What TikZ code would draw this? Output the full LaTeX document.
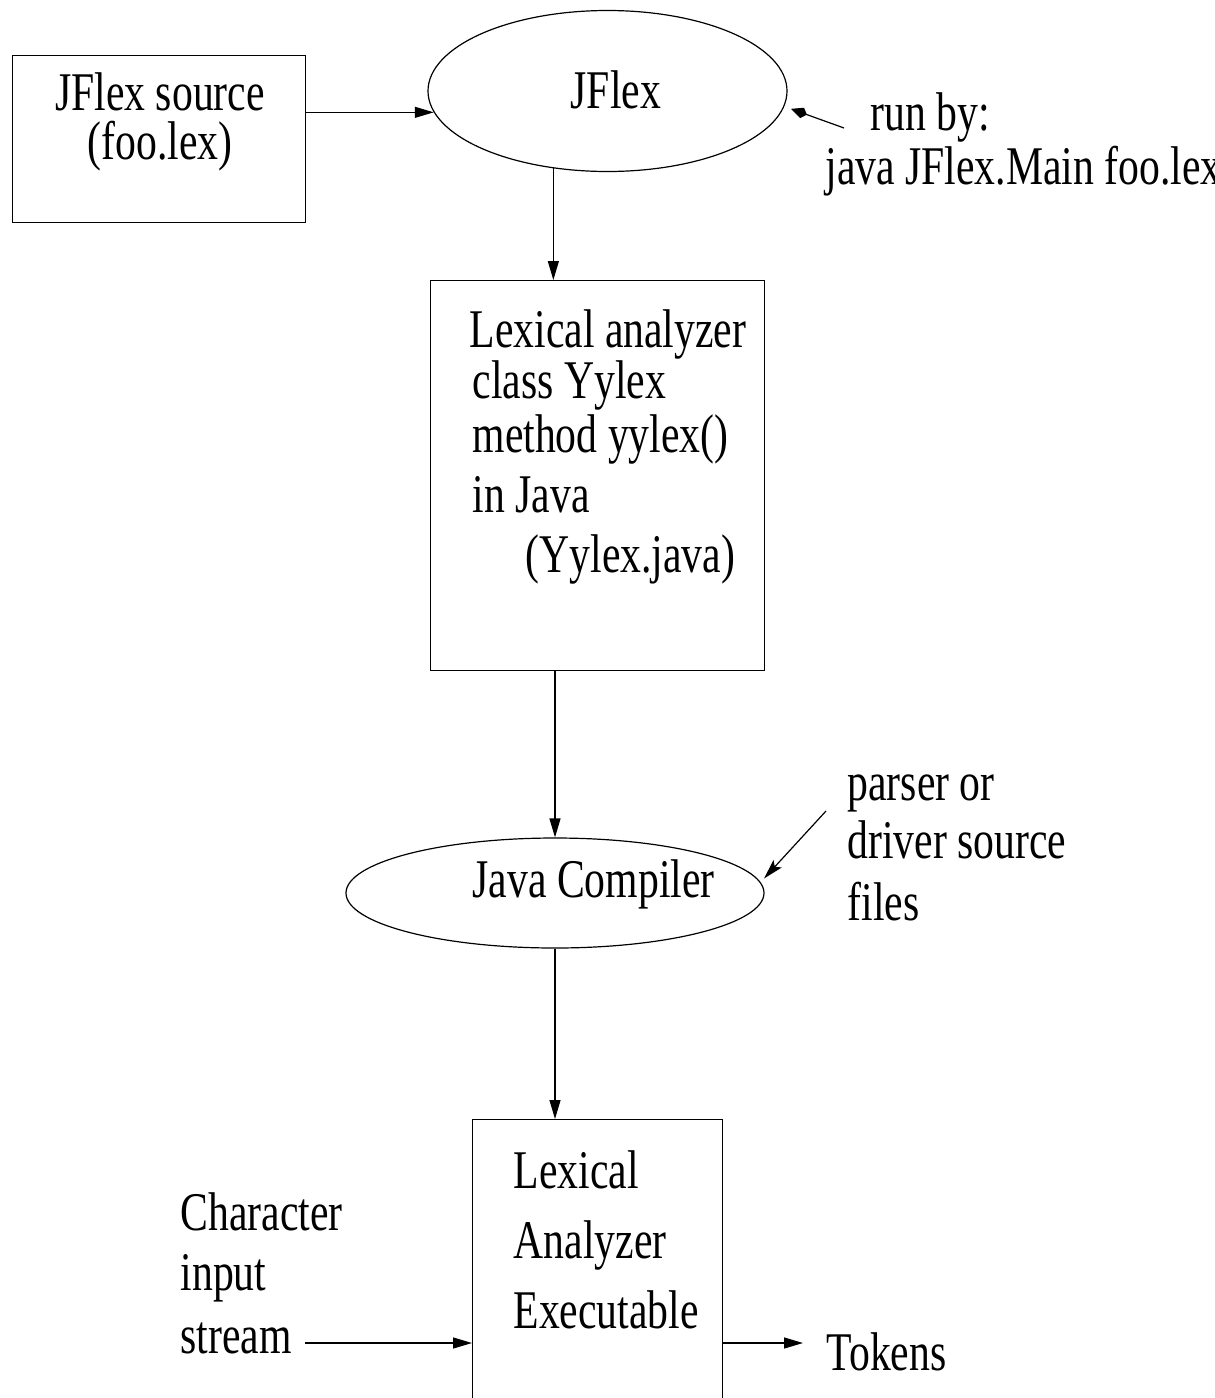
\documentclass[tikz,border=0pt]{standalone}
\usepackage{fontspec}
\setmainfont[FakeStretch=0.765]{Liberation Serif}
\usetikzlibrary{shapes.geometric,arrows.meta}
\begin{document}
\begin{tikzpicture}[x=1pt,y=-1pt,
  line width=1.2pt,
  box/.style={draw, rectangle, anchor=north west, inner sep=0pt},
  oval/.style={draw, ellipse, inner sep=0pt},
  txt/.style={inner sep=0pt, font=\fontsize{54.5}{60}\selectfont},
  arr/.style={-{Triangle[length=19pt,width=11pt]}},
  kitearr/.style={-{Kite[length=17pt,width=11pt,inset=5pt]}, shorten >=7pt},
  stealtharr/.style={-{Stealth[length=20pt,width=11pt,inset=4pt]}, shorten >=5pt},
]
\useasboundingbox (0,0) rectangle (1215,1398);
\clip (0,0) rectangle (1215,1398);

% shapes
\node[box, minimum width=293pt, minimum height=167pt] (b1) at (12,55) {};
\node[oval, minimum width=359pt, minimum height=161pt] (jf) at (607.5,91) {};
\node[box, minimum width=334pt, minimum height=390pt] (b2) at (430,280) {};
\node[oval, minimum width=418pt, minimum height=110pt] (jc) at (555,893) {};
\node[box, minimum width=250pt, minimum height=330pt] (b3) at (472,1119) {};

% texts
\node[txt, anchor=base] (t1a) at (160,110) {JFlex source};
\node[txt, anchor=base] (t1b) at (160,159) {(foo.lex)};
\node[txt, anchor=base west] (tjf) at (570,108) {JFlex};
\node[txt, anchor=base west] (tr1) at (870,130) {run by:};
\node[txt, anchor=base west] (tr2) at (825,184) {java JFlex.Main foo.lex};

\node[txt, anchor=base west] (t2a) at (469,347) {Lexical analyzer};
\node[txt, anchor=base west] (t2b) at (472,398) {class Yylex};
\node[txt, anchor=base west] (t2c) at (472,452) {method yylex()};
\node[txt, anchor=base west] (t2d) at (472,512) {in Java};
\node[txt, anchor=base west] (t2e) at (525,572) {(Yylex.java)};

\node[txt, anchor=base west] (tjc) at (472,897) {Java Compiler};
\node[txt, anchor=base west] (tp1) at (847,800) {parser or};
\node[txt, anchor=base west] (tp2) at (847,858) {driver source};
\node[txt, anchor=base west] (tp3) at (847,920) {files};

\node[txt, anchor=base west] (t3a) at (513,1188) {Lexical};
\node[txt, anchor=base west] (t3b) at (513,1258) {Analyzer};
\node[txt, anchor=base west] (t3c) at (513,1328) {Executable};

\node[txt, anchor=base west] (tc1) at (180,1230) {Character};
\node[txt, anchor=base west] (tc2) at (180,1290) {input};
\node[txt, anchor=base west] (tc3) at (180,1353) {stream};
\node[txt, anchor=base west] (ttok) at (826,1370) {Tokens};

% connectors
\draw[arr] (b1.east |- jf.187) -- (jf.187);
\coordinate (runtail) at (844,128);
\draw[kitearr] (runtail) -- (jf.355);
\draw[arr] (jf.235.5) -- (jf.235.5 |- b2.north);
\draw[arr] (jc.north |- b2.south) -- (jc.north);
\coordinate (partail) at (826,811);
\draw[stealtharr] (partail) -- (jc.3.6);
\draw[arr] (jc.south) -- (jc.south |- b3.north);
\coordinate (cin) at (305,1343);
\draw[arr] (cin) -- (cin -| b3.west);
\coordinate (tokin) at (803,1343);
\draw[arr] (tokin -| b3.east) -- (tokin);
\end{tikzpicture}
\end{document}
